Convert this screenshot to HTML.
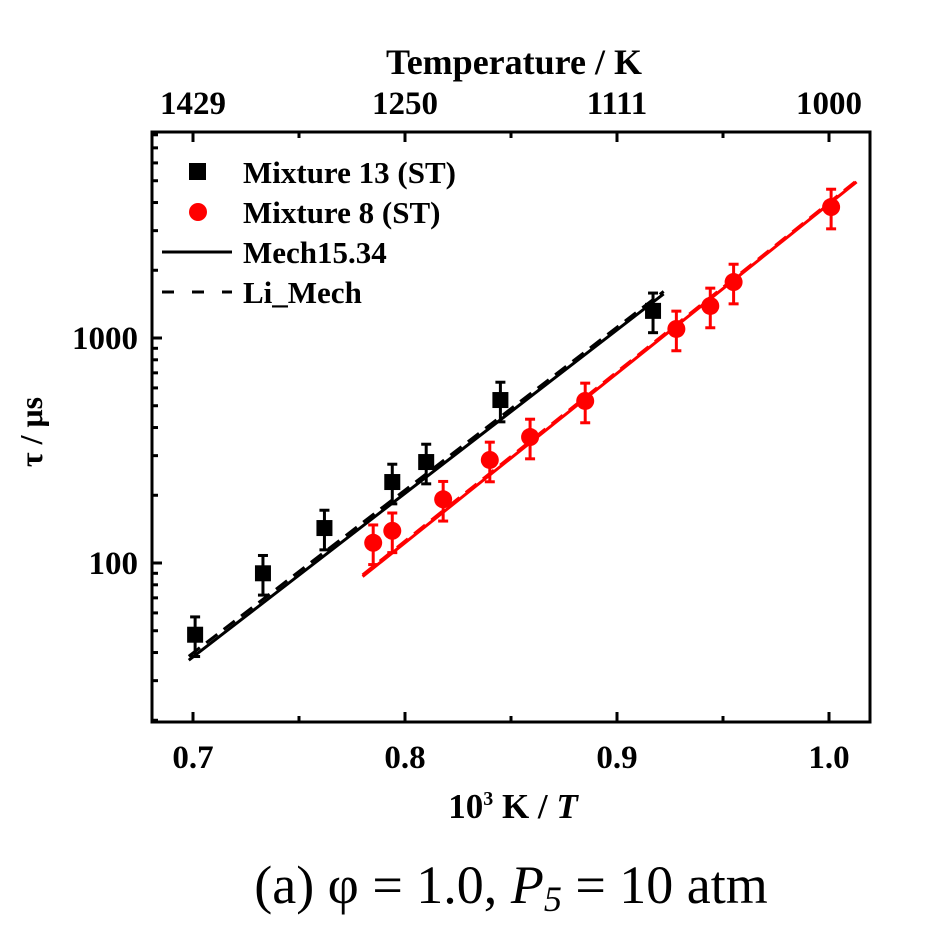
<!DOCTYPE html>
<html><head><meta charset="utf-8"><style>
body{margin:0;background:#fff;}
svg text{font-family:"Liberation Serif",serif;font-weight:bold;fill:#000;}
</style></head><body>
<svg id="chart" width="952" height="943" viewBox="0 0 952 943">
<g id="axes"></g><g id="marks"></g>
<g>
 <rect x="189" y="163" width="17" height="17" fill="#000"/>
 <text x="243" y="183" font-size="31">Mixture 13 (ST)</text>
 <circle cx="198" cy="212" r="9" fill="#f00"/>
 <text x="243" y="223" font-size="31">Mixture 8 (ST)</text>
 <line x1="162" y1="252" x2="232" y2="252" stroke="#000" stroke-width="3"/>
 <text x="243" y="263" font-size="31">Mech15.34</text>
 <line x1="162" y1="292" x2="232" y2="292" stroke="#000" stroke-width="3" stroke-dasharray="12,18"/>
 <text x="243" y="303" font-size="31">Li_Mech</text>
</g>
<text x="514" y="74" font-size="36" text-anchor="middle">Temperature / K</text>
<text x="513" y="818" font-size="35" text-anchor="middle">10<tspan dy="-13" font-size="20">3</tspan><tspan dy="13"> K / </tspan><tspan font-style="italic">T</tspan></text>
<text transform="translate(42,432) rotate(-90)" font-size="32" text-anchor="middle">τ / μs</text>
<text x="511" y="903" font-size="54" text-anchor="middle" style="font-weight:normal">(a) φ = 1.0, <tspan font-style="italic">P</tspan><tspan font-style="italic" font-size="36" dy="8">5</tspan><tspan dy="-8"> = 10 atm</tspan></text>
</svg>
<script>
const xTicks=[0.7,0.8,0.9,1.0];
const xTickLabels=["0.7","0.8","0.9","1.0"];
const topTicks=[0.7,0.8,0.9,1.0];
const topTickLabels=["1429","1250","1111","1000"];
const yTicks=[100,1000];
const yTickLabels=["100","1000"];
const blackX=[0.701,0.733,0.762,0.794,0.810,0.845,0.917];
const blackY=[48,90,143,229,281,530,1320];
const redX=[0.785,0.794,0.818,0.840,0.859,0.885,0.928,0.944,0.955,1.001];
const redY=[123,139,192,287,363,525,1097,1388,1773,3820];
const mechBlackX=[0.698,0.922];
const mechBlackY=[37,1570];
const liBlackX=[0.698,0.922];
const liBlackY=[38.5,1610];
const mechRedX=[0.780,1.013];
const mechRedY=[87,4940];
const liRedX=[0.780,1.013];
const liRedY=[88.5,5000];
const errFrac=0.2;

const L=152,R=870,T=132,B=722;
const sx=v=>193+(v-0.7)*2120;
const sy=v=>563-(Math.log10(v)-2)*225;
const NS="http://www.w3.org/2000/svg";
const axes=document.getElementById('axes'),marks=document.getElementById('marks');
function mk(tag,attrs,parent){const e=document.createElementNS(NS,tag);for(const k in attrs)e.setAttribute(k,attrs[k]);parent.appendChild(e);return e;}
const frame=mk('rect',{x:L,y:T,width:R-L,height:B-T,fill:'none',stroke:'#000','stroke-width':3},axes);


for(let v=0.7;v<=1.02;v+=0.05){const x=sx(v);const major=Math.abs(v*10-Math.round(v*10))<0.01;
 const t1=mk('line',{x1:x,y1:B,x2:x,y2:B-(major?10:6),stroke:'#000','stroke-width':3},axes);
 
 
 const t2=mk('line',{x1:x,y1:T,x2:x,y2:T+(major?10:6),stroke:'#000','stroke-width':3},axes);
 
 }
xTicks.forEach((v,i)=>{const t=mk('text',{x:sx(v),y:768,'font-size':33,'text-anchor':'middle'},axes);t.textContent=xTickLabels[i];
 
 });
topTicks.forEach((v,i)=>{const t=mk('text',{x:sx(v),y:114,'font-size':33,'text-anchor':'middle'},axes);t.textContent=topTickLabels[i];
 
 });
for(let d=10;d<=1000;d*=10){for(let m=1;m<10;m++){const v=d*m;const y=sy(v);if(y<T||y>B)continue;
 const t=mk('line',{x1:L,y1:y,x2:L+(m==1?10:6),y2:y,stroke:'#000','stroke-width':3},axes);
 
 }}
yTicks.forEach((v,i)=>{const t=mk('text',{x:138,y:sy(v)+11,'font-size':33,'text-anchor':'end'},axes);t.textContent=yTickLabels[i];
 
 });
function line(xs,ys,color,dash,name){const l=mk('line',{x1:sx(xs[0]),y1:sy(ys[0]),x2:sx(xs[1]),y2:sy(ys[1]),stroke:color,'stroke-width':3},marks);
 if(dash)l.setAttribute('stroke-dasharray',dash);
 
 }
line(liBlackX,liBlackY,'#000','14,8','li-mech-black-line');
line(mechBlackX,mechBlackY,'#000',null,'mech1534-black-line');
line(liRedX,liRedY,'#f00','14,8','li-mech-red-line');
line(mechRedX,mechRedY,'#f00',null,'mech1534-red-line');
function points(xs,ys,color,sq,name){xs.forEach((xv,i)=>{const x=sx(xv),y=sy(ys[i]);
 const y1=sy(ys[i]*(1+errFrac)),y2=sy(ys[i]*(1-errFrac));
 const g=mk('g',{},marks);
 
 
 mk('line',{x1:x,y1:y1,x2:x,y2:y2,stroke:color,'stroke-width':3},g);
 mk('line',{x1:x-5,y1:y1,x2:x+5,y2:y1,stroke:color,'stroke-width':3},g);
 mk('line',{x1:x-5,y1:y2,x2:x+5,y2:y2,stroke:color,'stroke-width':3},g);
 if(sq)mk('rect',{x:x-8,y:y-8,width:16,height:16,fill:color},g);else mk('circle',{cx:x,cy:y,r:9,fill:color},g);});}
points(blackX,blackY,'#000',true,'mixture13-point');
points(redX,redY,'#f00',false,'mixture8-point');
</script>
</body></html>
